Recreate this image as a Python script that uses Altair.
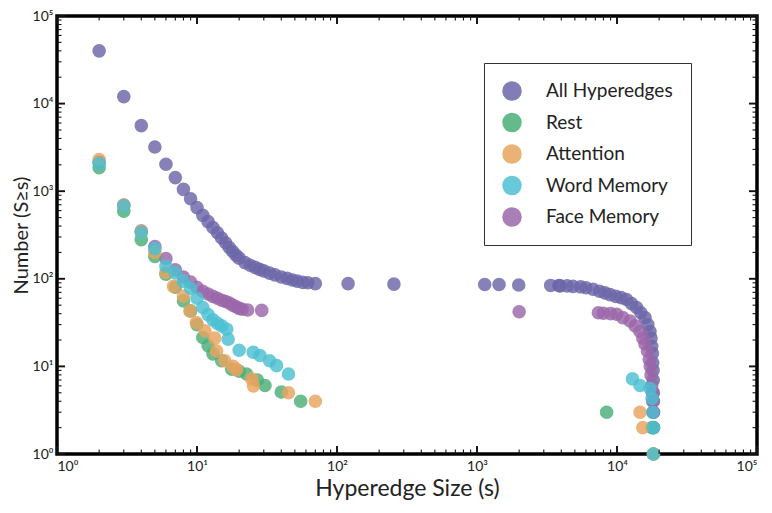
import altair as alt
import pandas as pd

# ---------------- data ----------------
series_order = ["All Hyperedges", "Rest", "Attention", "Word Memory", "Face Memory"]
draw_order = ["All Hyperedges", "Face Memory", "Rest", "Attention", "Word Memory"]

point_colors = ["#6b66a8", "#4aae78", "#e8a45e", "#4cc0d2", "#9b67a9"]

all_sizes = [2, 3, 4, 5, 6, 7, 8, 9, 10, 11, 12, 13, 14, 15, 16, 17, 18, 19, 20,
             22, 24, 26, 28, 30, 33, 36, 40, 44, 48, 52, 57, 62, 70,
             120, 255, 1135, 1437, 1986, 3360, 3850,
             3920, 4400, 4850, 5500, 6000, 6740, 7500, 8200, 8920, 9800, 10700,
             11700, 12700, 13800, 14800, 15850, 16600, 17200, 17500, 17700,
             17900, 18000, 18100, 18150, 18200, 18200, 18250, 18250]
all_counts = [40000, 12000, 5600, 3200, 2030, 1430, 1050, 820, 650, 530, 450, 385,
              335, 292, 258, 228, 205, 186, 172,
              153, 143, 135, 128, 123, 116, 111, 105, 101, 97, 94, 91, 90, 88,
              88, 87, 86, 86, 85, 84, 84,
              83, 83, 82, 81, 79, 76, 72, 69, 66, 63, 61,
              58, 52, 47, 41, 36, 30, 25, 21, 17,
              14, 11, 9, 7, 5, 4, 3, 2]

face_sizes = [2, 3, 4, 5, 6, 7, 8, 9, 10, 11, 12, 13, 14, 15, 16, 17, 18, 19, 20,
              21, 23, 29, 2000,
              7360, 8000, 9000, 9950, 11000, 12400, 13500, 14600, 15300, 15850,
              16500, 17000, 17300, 17500, 17700, 17900, 18000, 18100]
face_counts = [2150, 690, 350, 234, 170, 127, 105, 92, 80, 72, 67, 63, 60, 57, 55,
               53, 50, 48, 46, 45, 44, 43.6, 42,
               41, 40.5, 40, 39.4, 36, 33, 29, 25, 21, 18,
               15, 12, 10, 8, 6, 5, 4, 3]

rest_sizes = [2, 3, 4, 5, 6, 7, 8, 9, 10, 11, 12, 13, 15, 17.7, 20, 22.6, 27,
              30.6, 40, 55, 8430, 17800, 18200]
rest_counts = [1850, 590, 280, 180, 113, 80, 56, 43, 30, 21.4, 17.2, 13.9, 11.6,
               9.3, 8.8, 8.2, 7, 6.05, 5.1, 4, 3, 2, 1]

attention_sizes = [2, 3, 4, 5, 6, 6.8, 8, 8.9, 9.9, 11.4, 13.4, 13.8, 15.8, 18.1,
                   19.2, 24.6, 25.3, 45, 70, 14600, 15300, 18200]
attention_counts = [2300, 700, 350, 200, 118, 82, 63.5, 43, 31.6, 25.5, 21, 15,
                    11.6, 10, 9.2, 7.2, 6.0, 5, 4, 3, 2, 1]

word_sizes = [2, 3, 4, 5, 6, 7, 8, 9, 10, 11, 12, 13, 14, 15, 16.3, 16.7, 20,
              25.2, 28.2, 33, 37, 45, 12900, 14600, 17200, 17800, 18000, 18200,
              18200]
word_counts = [2080, 683, 340, 221, 139, 117, 94, 78, 60, 47, 39, 34, 31, 29,
               26.6, 20.5, 15.3, 14.5, 13.3, 11.6, 10.2, 8.2, 7.2, 6.05, 5.6,
               4.3, 3, 2, 1]

major_ticks = [1, 10, 100, 1000, 10000, 100000]
minor_ticks = [m * d for d in [1, 10, 100, 1000, 10000] for m in range(2, 10)]

# ---------------- one table: data points + frame tick marks ----------------
POINT_AREA = 185
MAJOR_AREA, MINOR_AREA = 256, 81      # filled tick paths: length = sqrt(area)/2

series_data = {
    "All Hyperedges": (all_sizes, all_counts),
    "Face Memory": (face_sizes, face_counts),
    "Rest": (rest_sizes, rest_counts),
    "Attention": (attention_sizes, attention_counts),
    "Word Memory": (word_sizes, word_counts),
}
rows = []
for name in draw_order:
    s, c = series_data[name]
    for a, b in zip(s, c):
        rows.append({"series": name, "size": a, "count": b,
                     "shape": "circle", "area": POINT_AREA, "op": 0.82})
for group, area in ((major_ticks, MAJOR_AREA), (minor_ticks, MINOR_AREA)):
    for v in group:
        for sx, sy, shp in ((v, 1, "up"), (v, 100000, "down"),
                            (1, v, "right"), (100000, v, "left")):
            rows.append({"series": "tick", "size": sx, "count": sy,
                         "shape": shp, "area": area, "op": 1})
df = pd.DataFrame(rows)

W, H = 700, 438
FONT = "Lato"

xscale = alt.Scale(type="log", domain=[1, 100000], nice=False)
yscale = alt.Scale(type="log", domain=[1, 100000], nice=False)
label_expr = ("'10' + ['\u2070','\u00b9','\u00b2','\u00b3','\u2074','\u2075']"
              "[round(log(datum.value)/LN10)]")

x_axis = alt.Axis(values=major_ticks, labelExpr=label_expr,
                  ticks=False, domain=False, grid=False, labelFontSize=14,
                  labelFont=FONT, labelColor="#222", labelPadding=5,
                  title="Hyperedge Size (s)", titleFont=FONT, titleFontSize=23,
                  titleFontWeight="normal", titleColor="#222", titlePadding=4)
y_axis = alt.Axis(values=major_ticks, labelExpr=label_expr,
                  ticks=False, domain=False, grid=False, labelFontSize=14,
                  labelFont=FONT, labelColor="#222", labelPadding=4,
                  title="Number (S\u2265s)", titleFont=FONT, titleFontSize=20,
                  titleFontWeight="normal", titleColor="#222", titlePadding=1)

tick_paths = ["M-0.12,0L0.12,0L0.12,-1L-0.12,-1Z",
              "M-0.12,0L0.12,0L0.12,1L-0.12,1Z",
              "M0,-0.12L1,-0.12L1,0.12L0,0.12Z",
              "M0,-0.12L-1,-0.12L-1,0.12L0,0.12Z"]

chart = alt.Chart(df).mark_point(filled=True).encode(
    x=alt.X("size:Q", scale=xscale, axis=x_axis),
    y=alt.Y("count:Q", scale=yscale, axis=y_axis),
    fill=alt.Fill("series:N",
                  scale=alt.Scale(domain=series_order + ["tick"],
                                  range=point_colors + ["#111111"]),
                  legend=alt.Legend(title=None, orient="none", values=series_order,
                                    legendX=427, legendY=47)),
    shape=alt.Shape("shape:N",
                    scale=alt.Scale(domain=["circle", "up", "down", "right", "left"],
                                    range=["circle"] + tick_paths),
                    legend=None),
    size=alt.Size("area:Q", scale=None),
    opacity=alt.Opacity("op:Q", scale=None),
).properties(
    width=W, height=H,
    autosize=alt.AutoSizeParams(type="none"),
    padding={"left": 49, "top": 8, "right": 7, "bottom": 50},
).configure_view(
    stroke="black", strokeWidth=3.5
).configure_legend(
    strokeColor="#333", strokeWidth=1, fillColor="white",
    padding=18, labelFont=FONT, labelFontSize=19, labelColor="#222",
    labelOffset=24, rowPadding=11.5, symbolSize=380, symbolOpacity=0.85,
    symbolType="circle", symbolStrokeWidth=0, labelLimit=300,
)

chart.save("out.html", embed_options={"renderer": "svg", "actions": False})
